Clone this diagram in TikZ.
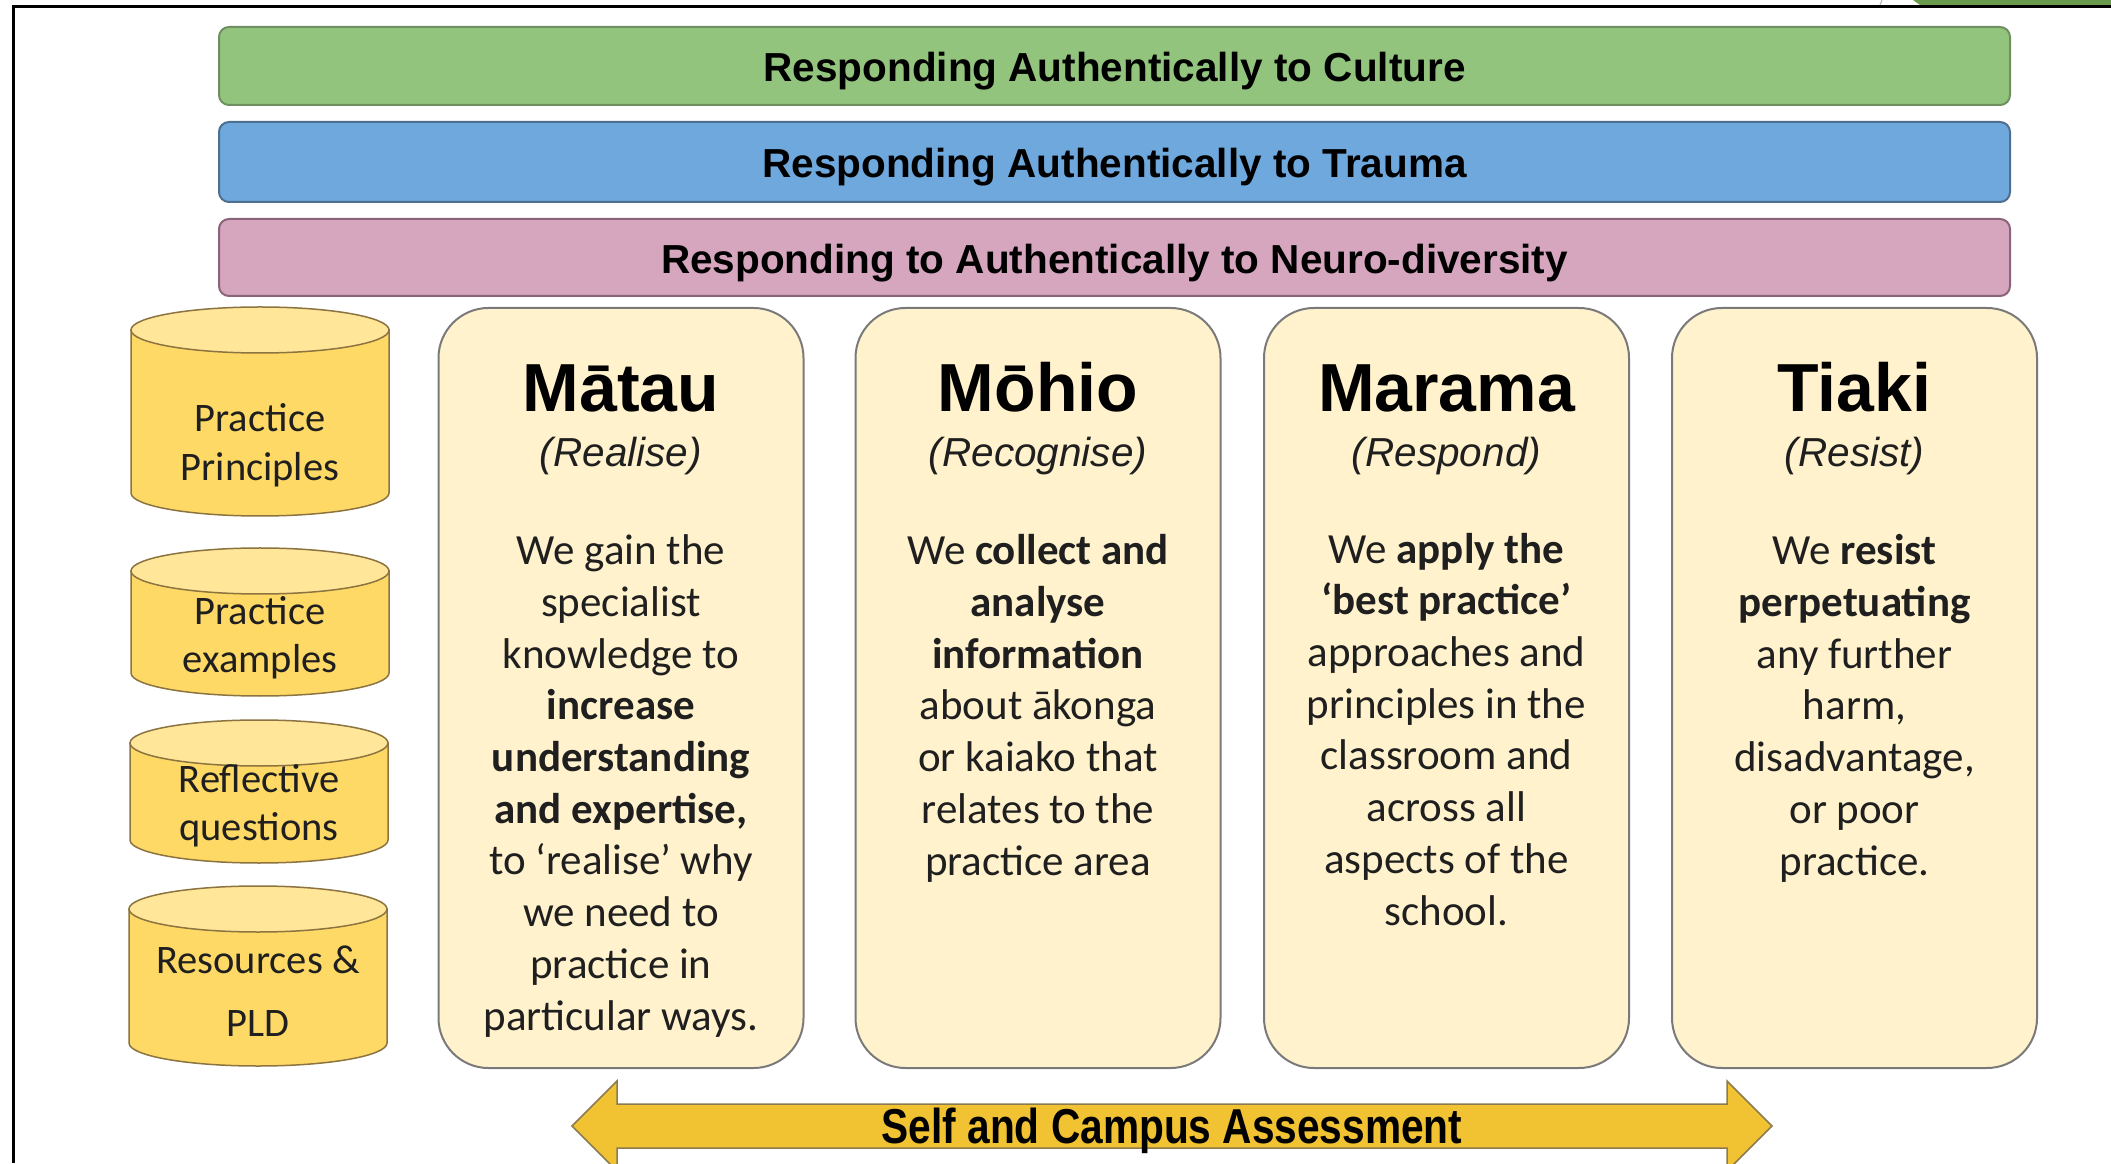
\documentclass[tikz,border=0pt]{standalone}
\usepackage{fontspec}
\setmainfont{Carlito}
\newfontfamily\arialfont{Liberation Sans}
\newfontfamily\narrowfont[FakeStretch=0.83]{Liberation Sans}
\usetikzlibrary{positioning}

\definecolor{culture}{HTML}{93C47D}
\definecolor{cultureline}{HTML}{6F8F60}
\definecolor{trauma}{HTML}{6FA8DC}
\definecolor{traumaline}{HTML}{4F6F8F}
\definecolor{neuro}{HTML}{D5A6BD}
\definecolor{neuroline}{HTML}{8A6478}
\definecolor{cardfill}{HTML}{FFF2CC}
\definecolor{cardline}{HTML}{7A7A7A}
\definecolor{drumfill}{HTML}{FFD966}
\definecolor{drumlid}{HTML}{FFE699}
\definecolor{drumline}{HTML}{8C7440}
\definecolor{arrowfill}{HTML}{F1C232}
\definecolor{arrowline}{HTML}{8C7A50}
\definecolor{textgrey}{HTML}{1F1F1F}
\definecolor{slidegreen}{HTML}{6A9A4C}

\tikzset{
    band/.style={rectangle, draw, line width=2pt, rounded corners=10pt, minimum width=1791pt, minimum height=78pt, text height=40pt, text depth=8.5pt, font=\arialfont\bfseries\fontsize{40.5}{48}\selectfont},
    card/.style={rectangle, draw=cardline, fill=cardfill, line width=2pt, rounded corners=50pt, minimum width=365pt, minimum height=760pt},
    cardtitle/.style={anchor=base, inner sep=0pt, font=\arialfont\bfseries\fontsize{68}{80}\selectfont},
    cardsub/.style={anchor=base, inner sep=0pt, text=textgrey, font=\arialfont\itshape\fontsize{40.5}{48}\selectfont},
    cardbody/.style={anchor=base, inner sep=0pt, align=center, text=textgrey, font=\fontsize{43}{51.7}\selectfont},
    drumtext/.style={align=center, inner sep=0pt, text=textgrey, font=\fontsize{40.5}{48.5}\selectfont},
    drumside/.style={draw=drumline, fill=drumfill, line width=1.5pt},
    drumtop/.style={draw=drumline, fill=drumlid, line width=1.5pt},
    twoway/.style={draw=arrowline, fill=arrowfill, line width=1.5pt},
}

% cylinder: centre x, bottom, top
\newcommand{\drum}[3]{%
    \draw[drumside] (#1-129,#3-23) -- (#1-129,#2+23)
        arc[start angle=180, end angle=360, x radius=129, y radius=23]
        -- (#1+129,#3-23) -- cycle;
    \draw[drumtop] (#1,#3-23) ellipse[x radius=129, y radius=23];
}

\begin{document}
\begin{tikzpicture}[x=1pt, y=1pt, node distance=15pt]
    \useasboundingbox[fill=white] (0,0) rectangle (2111,1163);

    % slide frame
    \draw[line width=3pt] (13,0) -- (13,1156) -- (2111,1156);
    \fill[slidegreen] (1913,1163) -- (1920,1158) -- (2111,1158) -- (2111,1163) -- cycle;
    \draw[gray!60, line width=1pt] (1880,1158) -- (1882,1163);

    % three bands
    \node[band, fill=culture, draw=cultureline] (culture) at (1114.5,1097) {Responding Authentically to Culture};
    \node[band, fill=trauma, draw=traumaline, minimum height=80pt, below=of culture] (trauma) {Responding Authentically to Trauma};
    \node[band, fill=neuro, draw=neuroline, minimum height=77pt, below=of trauma] (neuro) {Responding to Authentically to Neuro-diversity};

    % cylinders on the left
    \drum{260}{647}{856}
    \node[drumtext] (principles) at (260,717.5) {Practice\\Principles};
    \drum{260}{467}{615}
    \node[drumtext] (examples) at (260,525) {Practice\\examples};
    \drum{259}{300}{443}
    \node[drumtext] (questions) at (259,357) {Reflective\\questions};
    \drum{258}{97}{277}
    \node[drumtext] (resources) at (258,172) {Resources \&\\[14pt]PLD};

    % four cards
    \node[card] (matau) at (621,475) {};
    \node[card, right=50pt of matau] (mohio) {};
    \node[card, right=41.5pt of mohio] (marama) {};
    \node[card, right=41pt of marama] (tiaki) {};

    % body nodes sit on the baseline of their last line
    \node[cardtitle] (matauT) at ([yshift=-105pt]matau.north) {Mātau};
    \node[cardsub] (matauS) at ([yshift=-160pt]matau.north) {(Realise)};
    \node[cardbody] (matauB) at ([yshift=-723pt]matau.north) {We gain the\\specialist\\knowledge to\\\textbf{increase}\\\textbf{understanding}\\\textbf{and expertise,}\\to ‘realise’ why\\we need to\\practice in\\particular ways.};

    \node[cardtitle] (mohioT) at ([yshift=-105pt]mohio.north) {Mōhio};
    \node[cardsub] (mohioS) at ([yshift=-160pt]mohio.north) {(Recognise)};
    \node[cardbody] (mohioB) at ([yshift=-568pt]mohio.north) {We \textbf{collect and}\\\textbf{analyse}\\\textbf{information}\\about ākonga\\or kaiako that\\relates to the\\practice area};

    \node[cardtitle] (maramaT) at ([yshift=-105pt]marama.north) {Marama};
    \node[cardsub] (maramaS) at ([yshift=-160pt]marama.north) {(Respond)};
    \node[cardbody] (maramaB) at ([yshift=-618pt]marama.north) {We \textbf{apply the}\\\textbf{‘best practice’}\\approaches and\\principles in the\\classroom and\\across all\\aspects of the\\school.};

    \node[cardtitle] (tiakiT) at ([yshift=-105pt]tiaki.north) {Tiaki};
    \node[cardsub] (tiakiS) at ([yshift=-160pt]tiaki.north) {(Resist)};
    \node[cardbody] (tiakiB) at ([yshift=-568pt]tiaki.north) {We \textbf{resist}\\\textbf{perpetuating}\\any further\\harm,\\disadvantage,\\or poor\\practice.};

    % assessment arrow along the bottom
    \draw[twoway] (572,37) -- (617,82) -- (617,59) -- (1727,59) -- (1727,82) -- (1772,37)
        -- (1727,-8) -- (1727,15) -- (617,15) -- (617,-8) -- cycle;
    \node[font=\narrowfont\bfseries\fontsize{49}{58}\selectfont] (assess) at (1172,32) {Self and Campus Assessment};
\end{tikzpicture}
\end{document}
